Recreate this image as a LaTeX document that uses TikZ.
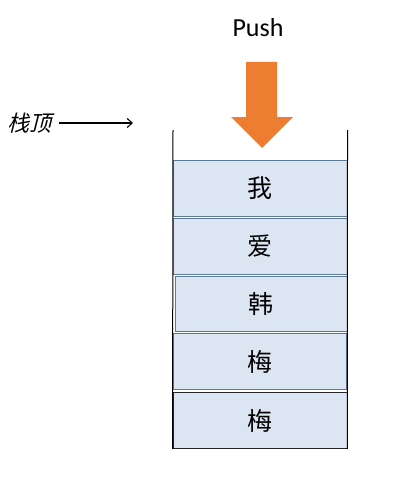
\documentclass[tikz,border=0pt]{standalone}
\usepackage{fontspec}
\setmainfont{Carlito}
\newfontfamily\cjk{Noto Sans CJK SC}
\newfontfamily\cjkit[FakeSlant=0.25]{Noto Sans CJK SC}
\usetikzlibrary{arrows.meta}
\definecolor{cellfill}{HTML}{DCE6F2}
\definecolor{celledge}{HTML}{5A7A98}
\definecolor{pushor}{HTML}{ED7D31}
\tikzset{
  cell/.style={draw=celledge, line width=0.9pt, fill=cellfill, inner sep=0pt, font=\cjk\fontsize{25}{27}\selectfont},
}
\begin{document}
\begin{tikzpicture}[x=1pt,y=-1pt]
\useasboundingbox (0,0) rectangle (417,495);
% cells
\node[cell, minimum width=174pt, minimum height=56pt] (c1) at (260,188) {我};
\node[cell, minimum width=174pt, minimum height=56pt] (c2) at (260,246.5) {爱};
\node[cell, minimum width=172pt, minimum height=55pt] (c3) at (261,304) {韩};
\node[cell, minimum width=173pt, minimum height=56pt] (c4) at (259.5,361.5) {梅};
\node[cell, draw=black!85, minimum width=174pt, minimum height=56pt] (c5) at (260,420.5) {梅};
% container walls
\coordinate (tl) at (173,130);
\coordinate (tr) at (347.5,130);
\draw[black, line width=1pt] (tl) -- (c5.south west);
\draw[black, line width=1pt] (tr) -- (c5.south east);
% push arrow
\fill[pushor] (246,62) -- (277,62) -- (277,117) -- (293,117) -- (262,148) -- (231,117) -- (246,117) -- cycle;
\node[font=\fontsize{26}{28}\selectfont, inner sep=0pt] (push) at (258,28) {Push};
% stack top label
\node[font=\cjkit\fontsize{22}{24}\selectfont, inner sep=0pt, anchor=west] (top) at (7,123) {栈顶};
\coordinate (topstart) at (59,123);
\coordinate (topend) at (133,123);
\draw[line width=1.1pt, -{Straight Barb[length=5pt,width=9pt]}] (topstart) -- (topend);
\end{tikzpicture}
\end{document}
